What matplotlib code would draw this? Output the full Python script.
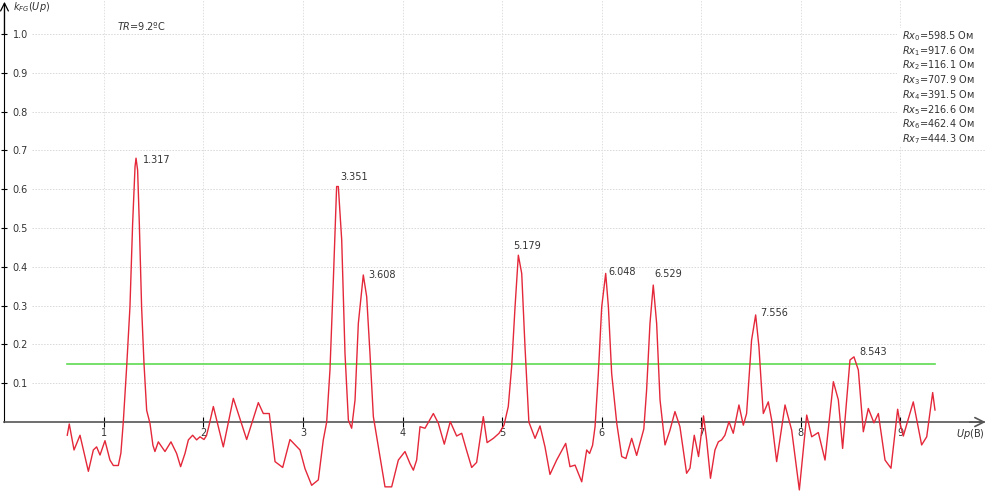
import numpy as np
import matplotlib
matplotlib.use('Agg')
import matplotlib.pyplot as plt
from matplotlib.patches import Rectangle

# kFG(Up) curve
up = [0.631, 0.651, 0.699, 0.759, 0.843, 0.893, 0.926, 0.960, 1.010, 1.060,
      1.094, 1.144, 1.170, 1.194, 1.228, 1.261, 1.288, 1.312, 1.322, 1.338,
      1.355, 1.378, 1.402, 1.429, 1.462, 1.492, 1.512, 1.546, 1.613, 1.673,
      1.730, 1.770, 1.814, 1.848, 1.891, 1.931, 1.965, 2.005, 2.030, 2.050,
      2.099, 2.199, 2.300, 2.434, 2.551, 2.601, 2.661, 2.719, 2.796, 2.869,
      2.970, 3.020, 3.087, 3.154, 3.204, 3.238, 3.271, 3.305, 3.338, 3.355,
      3.389, 3.422, 3.456, 3.489, 3.523, 3.556, 3.606, 3.640, 3.673, 3.707,
      3.757, 3.824, 3.891, 3.958, 4.025, 4.075, 4.109, 4.142, 4.176, 4.226,
      4.310, 4.360, 4.420, 4.480, 4.544, 4.595, 4.645, 4.695, 4.745, 4.812,
      4.850, 4.913, 4.970, 5.020, 5.063, 5.097, 5.131, 5.164, 5.198, 5.231,
      5.270, 5.332, 5.382, 5.432, 5.482, 5.549, 5.640, 5.683, 5.734, 5.801,
      5.851, 5.880, 5.910, 5.935, 5.968, 6.002, 6.042, 6.069, 6.102, 6.153,
      6.203, 6.245, 6.303, 6.353, 6.425, 6.453, 6.487, 6.520, 6.554, 6.588,
      6.638, 6.688, 6.738, 6.788, 6.855, 6.889, 6.932, 6.975, 7.025, 7.056,
      7.095, 7.140, 7.174, 7.207, 7.240, 7.281, 7.324, 7.381, 7.425, 7.458,
      7.508, 7.549, 7.582, 7.605, 7.626, 7.676, 7.710, 7.760, 7.844, 7.911,
      7.988, 8.062, 8.112, 8.179, 8.246, 8.330, 8.380, 8.423, 8.497, 8.537,
      8.581, 8.631, 8.681, 8.738, 8.782, 8.849, 8.909, 8.976, 8.999, 9.033,
      9.133, 9.217, 9.268, 9.328, 9.351]
kfg = [-0.034, -0.005, -0.072, -0.034, -0.127, -0.072, -0.064, -0.085, -0.048, -0.098,
       -0.112, -0.112, -0.080, 0.000, 0.143, 0.297, 0.512, 0.658, 0.680, 0.649,
       0.512, 0.297, 0.151, 0.030, -0.003, -0.060, -0.076, -0.051, -0.076, -0.051,
       -0.081, -0.115, -0.081, -0.046, -0.034, -0.046, -0.038, -0.045, -0.035, -0.015,
       0.040, -0.064, 0.061, -0.045, 0.050, 0.022, 0.022, -0.102, -0.117, -0.045,
       -0.072, -0.120, -0.163, -0.149, -0.046, 0.000, 0.134, 0.366, 0.607, 0.607,
       0.469, 0.177, 0.005, -0.016, 0.057, 0.254, 0.379, 0.323, 0.177, 0.014,
       -0.064, -0.167, -0.167, -0.098, -0.076, -0.107, -0.124, -0.098, -0.012, -0.016,
       0.022, -0.003, -0.057, 0.001, -0.036, -0.029, -0.074, -0.117, -0.104, 0.014,
       -0.053, -0.042, -0.029, -0.008, 0.040, 0.143, 0.297, 0.430, 0.383, 0.194,
       0.000, -0.042, -0.010, -0.064, -0.135, -0.098, -0.055, -0.115, -0.111, -0.154,
       -0.072, -0.081, -0.060, -0.012, 0.125, 0.297, 0.383, 0.297, 0.125, -0.003,
       -0.089, -0.094, -0.042, -0.086, -0.018, 0.082, 0.254, 0.353, 0.254, 0.057,
       -0.059, -0.021, 0.027, -0.012, -0.132, -0.119, -0.034, -0.089, 0.016, -0.046,
       -0.145, -0.072, -0.051, -0.046, -0.034, 0.001, -0.029, 0.044, -0.008, 0.022,
       0.211, 0.276, 0.194, 0.100, 0.022, 0.052, 0.005, -0.102, 0.044, -0.021,
       -0.175, 0.018, -0.038, -0.027, -0.098, 0.104, 0.057, -0.068, 0.160, 0.168,
       0.134, -0.025, 0.035, -0.002, 0.022, -0.098, -0.119, 0.033, -0.003, -0.036,
       0.052, -0.059, -0.038, 0.076, 0.031]

threshold = 0.15
thr_x = [0.631, 9.351]

peak_x = [1.317, 3.351, 3.608, 5.179, 6.048, 6.529, 7.556, 8.543]
peak_y = [0.680, 0.607, 0.379, 0.430, 0.383, 0.353, 0.276, 0.168]
# label offsets in pixels (right, up)
peak_off = [(7, -2), (2, 9), (5, 0), (-7, 9), (2, 1), (0, 11), (4, 2), (5, 5)]

rx_names = ['0', '1', '2', '3', '4', '5', '6', '7']
rx_vals = [598.5, 917.6, 116.1, 707.9, 391.5, 216.6, 462.4, 444.3]
tr_val = 9.2

xticks = [1, 2, 3, 4, 5, 6, 7, 8, 9]
yticks = [0.1, 0.2, 0.3, 0.4, 0.5, 0.6, 0.7, 0.8, 0.9, 1.0]

W, H = 989, 495
fig = plt.figure(figsize=(W / 100, H / 100), dpi=100)
ax = fig.add_axes([0, 0, 1, 1])
ax.set_xlim(-0.045, 9.894)
ax.set_ylim(-0.188, 1.0876)

txt = '#333333'
fs = 7

# grid (only in the positive part)
ax.hlines(yticks, 0.28, 9.85, colors='#d8d8d8', linewidth=0.7,
          linestyles=(0, (1.5, 1.5)), zorder=1)
ax.vlines(xticks, 0, 1.09, colors='#e0e0e0', linewidth=0.7,
          linestyles=(0, (1.5, 1.5)), zorder=1)

# white box behind the Rx list
ax.add_patch(Rectangle((8.97, 0.711), 1.0, 0.304, facecolor='white',
                       edgecolor='none', zorder=2))

# axes with ticks
for s in ['top', 'left']:
    ax.spines[s].set_visible(False)
ax.spines['right'].set_position(('data', 0))
ax.spines['right'].set_bounds(0, 1.075)
ax.spines['right'].set_color('black')
ax.spines['bottom'].set_position(('data', 0))
ax.spines['bottom'].set_bounds(0, 9.84)
ax.spines['bottom'].set_color('#555555')
ax.spines['bottom'].set_linewidth(1.2)
ax.yaxis.tick_right()
ax.set_yticks(yticks)
ax.set_yticklabels(['%.1f' % v for v in yticks])
ax.set_xticks(xticks)
ax.set_xticklabels([str(v) for v in xticks])
ax.tick_params(axis='y', direction='inout', length=4, width=0.8, pad=4,
               labelsize=fs, labelcolor=txt, colors='black')
ax.tick_params(axis='x', direction='inout', length=7, width=0.8, pad=1,
               labelsize=fs, labelcolor=txt, colors='black')
for lab in ax.get_yticklabels():
    lab.set_ha('left')

# arrow heads
ax.annotate('', xy=(0, 1.083), xytext=(0, 1.0),
            arrowprops=dict(arrowstyle='->', lw=0.9, color='black',
                            mutation_scale=14, shrinkA=0, shrinkB=0))
ax.annotate('', xy=(9.86, 0), xytext=(9.7, 0),
            arrowprops=dict(arrowstyle='->', lw=1.2, color='#555555',
                            mutation_scale=16, shrinkA=0, shrinkB=0))

# data
ax.plot(thr_x, [threshold, threshold], color='#5ddc52', linewidth=1.2, zorder=3)
ax.plot(up, kfg, color='#e4283a', linewidth=1.0, zorder=4)

for px, py, off in zip(peak_x, peak_y, peak_off):
    ax.annotate('%.3f' % px, xy=(px, py), xytext=off, textcoords='offset pixels',
                ha='left', va='center', fontsize=fs, color=txt, zorder=5)

# labels
def fx(p):
    return p / W

def fy(p):
    return 1 - p / H

fig.text(fx(13), fy(7), r'$k_{FG}(Up)$', fontsize=fs, color=txt,
         ha='left', va='center')
fig.text(fx(117), fy(26), r'$TR$=%.1fºC' % tr_val, fontsize=fs, color=txt,
         ha='left', va='center')
fig.text(fx(985), fy(434), r'$Up$(В)', fontsize=fs, color=txt,
         ha='right', va='center')

for i, (n, v) in enumerate(zip(rx_names, rx_vals)):
    fig.text(fx(902), fy(36 + i * 14.76), r'$Rx_{%s}$=%.1f Ом' % (n, v),
             fontsize=fs, color=txt, ha='left', va='center', zorder=3)

fig.savefig('out.png', dpi=100)
